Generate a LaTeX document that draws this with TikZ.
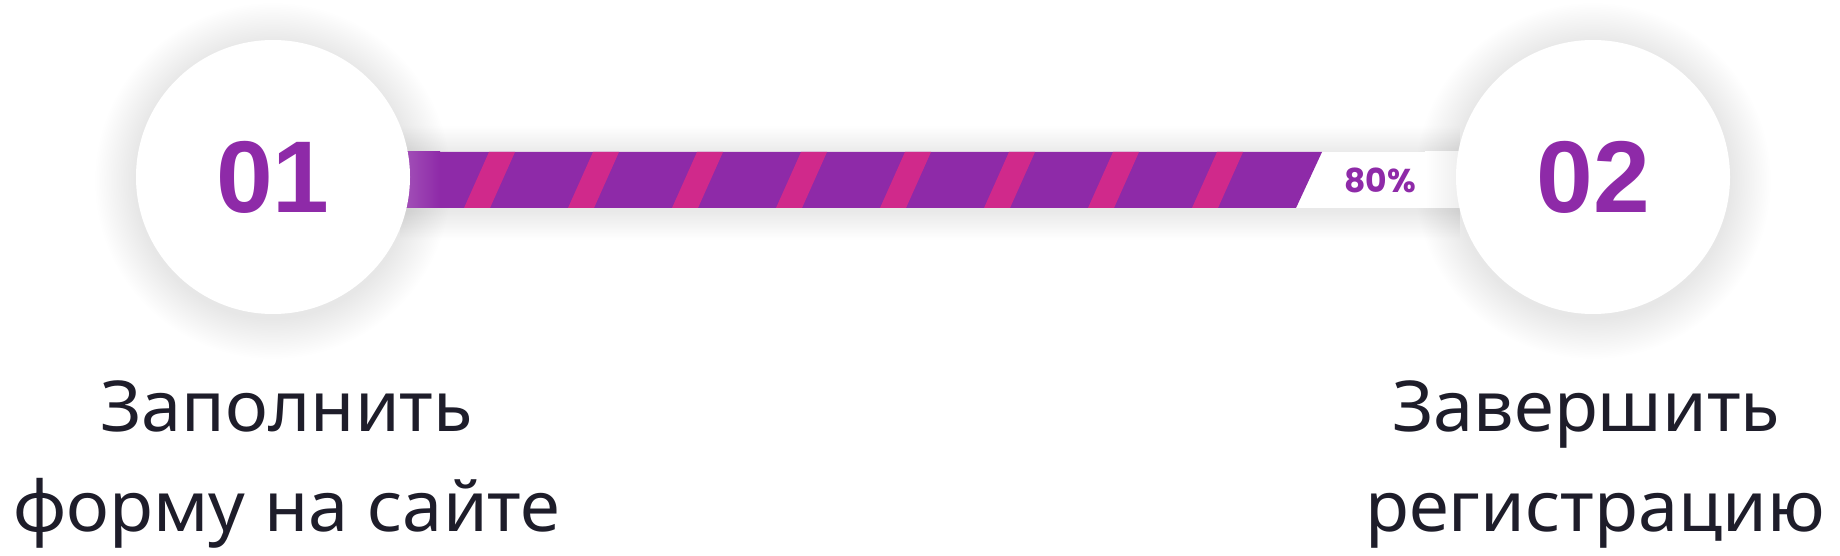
\documentclass[tikz,border=0pt]{standalone}
\usepackage{fontspec}
\setmainfont{Noto Sans}[FakeStretch=1.03]
\newfontfamily\numfont{Liberation Sans}
\newfontfamily\pctfont{Poppins}
\definecolor{barpurple}{HTML}{8E2AA8}
\definecolor{barpink}{HTML}{D0298B}
\definecolor{labeltext}{HTML}{1E1D2A}
\definecolor{tracktint}{HTML}{EEEEEE}
\tikzset{
  stepcircle/.style={circle, fill=white, minimum size=274, inner sep=0pt},
  stepnum/.style={font=\numfont\bfseries\fontsize{102}{102}\selectfont, text=barpurple, inner sep=0pt},
  steplabel/.style={font=\fontsize{70}{84}\selectfont, text=labeltext, anchor=base, inner sep=0pt},
  pctlabel/.style={font=\pctfont\bfseries\fontsize{33}{33}\selectfont, text=barpurple, inner sep=0pt},
  stripe/.style={fill=barpink},
}
\begin{document}
\begin{tikzpicture}[x=1pt,y=-1pt]
\useasboundingbox (0,0) rectangle (1840,556);
% bar shadow
\foreach \i in {1,...,22} {
  \fill[black, opacity=0.0035] (400,{152-\i*1.3+3}) rectangle (1460,{208+\i*1.3+3});
}
% circle shadows
\foreach \cx in {273,1593} {
  \foreach \i in {1,...,24} {
    \fill[black, opacity=0.0024] (\cx,181) circle ({137+\i*1.7});
  }
}
% bar track
\fill[white] (400,152) rectangle (1460,208);
\fill[left color=white, right color=tracktint] (1425,152) rectangle (1460,208);
% purple progress
\fill[barpurple] (400,152) -- (1322,152) -- (1296,208) -- (400,208) -- cycle;
\fill[left color=barpurple!80!white, right color=barpurple] (400,152) rectangle (440,208);
% stripes
\foreach \xb in {464,568,672,776,880,984,1088,1192} {
  \fill[stripe] (\xb,208) -- ({\xb+26},208) -- ({\xb+51},152) -- ({\xb+25},152) -- cycle;
}
% circles
\node[stepcircle] (c1) at (273,177) {};
\node[stepcircle] (c2) at (1593,177) {};
\node[stepnum] (n1) at (c1.center) {01};
\node[stepnum] (n2) at (c2.center) {02};
\node[pctlabel] (pct) at (1380,180) {80\%};
% labels
\node[steplabel] (l1a) at (286.5,431.7) {Заполнить};
\node[steplabel] (l1b) at (287,531.7) {форму на сайте};
\node[steplabel] (l2a) at (1586,431.7) {Завершить};
\node[steplabel] (l2b) at (1595,531.7) {регистрацию};
\end{tikzpicture}
\end{document}
